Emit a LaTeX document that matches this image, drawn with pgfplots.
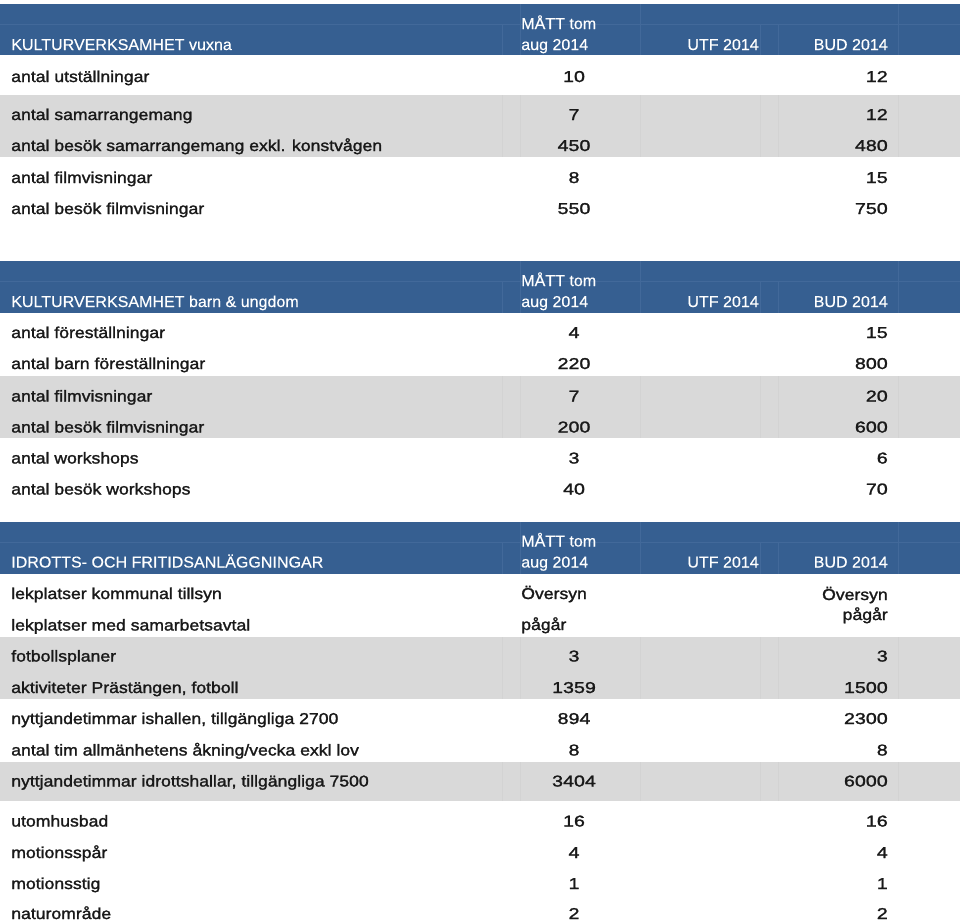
\documentclass[border=0pt]{standalone}
\usepackage{fontspec}
\usepackage{pgfplots}
\usepackage{pgfplotstable}
\pgfplotsset{compat=1.18}
\newfontfamily\hdfont{Liberation Sans}[FakeStretch=1.02, FakeBold=0.3]
\newfontfamily\bdfont{Liberation Sans}[FakeStretch=1.12, FakeBold=1.6]
\newfontfamily\nmfont{Liberation Sans}[FakeStretch=1.25, FakeBold=1.6]
\newcommand\fs{\fontsize{11.8}{13}\selectfont}
\definecolor{band}{HTML}{365F91}
\definecolor{bandline}{HTML}{42699A}
\definecolor{rowgray}{HTML}{D9D9D9}
\definecolor{grayline}{HTML}{D3D3D3}

% baseline y (px from top); label; MÅTT tom aug 2014; BUD 2014
\pgfplotstableread[col sep=semicolon]{
y;label;matt;bud
82;antal utställningar;10;12
120;antal samarrangemang;7;12
151;antal besök samarrangemang exkl. konstvågen;450;480
183;antal filmvisningar;8;15
214;antal besök filmvisningar;550;750
}\vuxna
\pgfplotstableread[col sep=semicolon]{
y;label;matt;bud
338;antal föreställningar;4;15
369;antal barn föreställningar;220;800
401.5;antal filmvisningar;7;20
432.5;antal besök filmvisningar;200;600
463.5;antal workshops;3;6
494.5;antal besök workshops;40;70
}\barn
\pgfplotstableread[col sep=semicolon]{
y;label;matt;bud
661.5;fotbollsplaner;3;3
693;aktiviteter Prästängen, fotboll;1359;1500
724;nyttjandetimmar ishallen, tillgängliga 2700;894;2300
755.5;antal tim allmänhetens åkning/vecka exkl lov;8;8
786.5;nyttjandetimmar idrottshallar, tillgängliga 7500;3404;6000
826.5;utomhusbad;16;16
858;motionsspår;4;4
889;motionsstig;1;1
919;naturområde;2;2
}\idrott
\pgfplotstableread[col sep=semicolon]{
y;label
599;lekplatser kommunal tillsyn
630.5;lekplatser med samarbetsavtal
}\lek

\pgfplotsset{
  txt/.style={draw=none, mark=none, forget plot, nodes near coords,
    point meta=explicit symbolic,
    nodes near coords style={anchor=#1, inner sep=0pt, font=\bdfont\fs, text=black!90}},
  num/.style={txt=#1, nodes near coords style={font=\nmfont\fs}},
}
% blue header band: top, bottom, first header baseline, section title
\newcommand\blueband[4]{%
  \fill[band] (axis cs:0,#1) rectangle (axis cs:960,#2);
  \draw[bandline, line width=0.5pt] (axis cs:0,#1+20) -- (axis cs:960,#1+20);
  \draw[bandline, line width=0.5pt] (axis cs:520,#1) -- (axis cs:520,#2)
        (axis cs:640,#1) -- (axis cs:640,#2) (axis cs:898,#1) -- (axis cs:898,#2)
        (axis cs:502,#1+20) -- (axis cs:502,#2) (axis cs:760,#1+20) -- (axis cs:760,#2)
        (axis cs:778,#1+20) -- (axis cs:778,#2);
  \node[anchor=base west, inner sep=0pt, text=white, font=\hdfont\fs] at (axis cs:11,#3+21) {#4};
  \node[anchor=base west, inner sep=0pt, text=white, font=\hdfont\fs] at (axis cs:521,#3) {MÅTT tom};
  \node[anchor=base west, inner sep=0pt, text=white, font=\hdfont\fs] at (axis cs:521,#3+21) {aug 2014};
  \node[anchor=base east, inner sep=0pt, text=white, font=\hdfont\fs] at (axis cs:759,#3+21) {UTF 2014};
  \node[anchor=base east, inner sep=0pt, text=white, font=\hdfont\fs] at (axis cs:888,#3+21) {BUD 2014};
}
\newcommand\grayband[2]{%
  \fill[rowgray] (axis cs:0,#1) rectangle (axis cs:960,#2);
  \draw[grayline, line width=0.4pt] (axis cs:502,#1) -- (axis cs:502,#2)
        (axis cs:520,#1) -- (axis cs:520,#2) (axis cs:640,#1) -- (axis cs:640,#2)
        (axis cs:760,#1) -- (axis cs:760,#2) (axis cs:778,#1) -- (axis cs:778,#2)
        (axis cs:898,#1) -- (axis cs:898,#2);
}

\begin{document}
\begin{tikzpicture}
\begin{axis}[
    name=ax,
    scale only axis,
    width=720pt, height=690.75pt,
    xmin=0, xmax=960, ymin=0, ymax=921,
    y dir=reverse,
    hide axis,
    clip=false,
]
\blueband{4}{55}{29}{KULTURVERKSAMHET vuxna}
\blueband{261}{313}{286}{KULTURVERKSAMHET barn \& ungdom}
\blueband{522}{574}{546.5}{IDROTTS- OCH FRITIDSANLÄGGNINGAR}
\grayband{95}{157}
\grayband{376}{438}
\grayband{637}{699}
\grayband{762}{801}
% rows
\addplot[txt=base west] table[x expr=11, y=y, meta=label] {\vuxna};
\addplot[num=base] table[x expr=574, y=y, meta=matt] {\vuxna};
\addplot[num=base east] table[x expr=888, y=y, meta=bud] {\vuxna};
\addplot[txt=base west] table[x expr=11, y=y, meta=label] {\barn};
\addplot[num=base] table[x expr=574, y=y, meta=matt] {\barn};
\addplot[num=base east] table[x expr=888, y=y, meta=bud] {\barn};
\addplot[txt=base west] table[x expr=11, y=y, meta=label] {\idrott};
\addplot[num=base] table[x expr=574, y=y, meta=matt] {\idrott};
\addplot[num=base east] table[x expr=888, y=y, meta=bud] {\idrott};
\addplot[txt=base west] table[x expr=11, y=y, meta=label] {\lek};
\addplot[txt=base west] coordinates {(521,599) [Översyn] (521,630) [pågår]};
\addplot[txt=base east] coordinates {(888,600) [Översyn] (888,620) [pågår]};
\end{axis}
\pgfresetboundingbox
\useasboundingbox (ax.south west) rectangle (ax.north east);
\end{tikzpicture}
\end{document}
